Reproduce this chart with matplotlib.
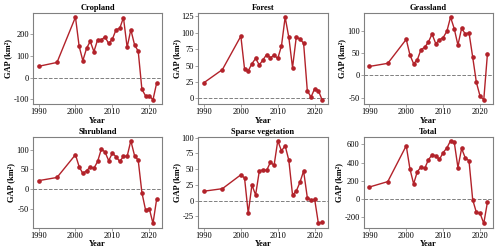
import numpy as np
import matplotlib.pyplot as plt

plt.rcParams['font.family'] = ['Liberation Serif', 'DejaVu Serif']
plt.rcParams['axes.unicode_minus'] = False

years = [1990, 1995, 2000, 2001, 2002, 2003, 2004, 2005, 2006, 2007, 2008, 2009,
         2010, 2011, 2012, 2013, 2014, 2015, 2016, 2017, 2018, 2019, 2020, 2021, 2022]

cropland = [52, 70, 280, 145, 78, 135, 168, 120, 175, 175, 188, 158,
            178, 222, 228, 278, 140, 222, 152, 122, -55, -85, -85, -103, -25]
forest = [24, 44, 95, 45, 42, 53, 61, 51, 59, 67, 62, 66,
          61, 80, 124, 93, 47, 93, 91, 84, 12, 2, 15, 12, -2]
grassland = [20, 27, 81, 46, 26, 35, 58, 63, 75, 93, 71, 80,
             85, 99, 131, 105, 68, 106, 93, 96, 41, -16, -47, -55, 49]
shrubland = [22, 30, 87, 57, 40, 47, 56, 53, 70, 101, 94, 72,
             91, 82, 70, 83, 83, 122, 85, 73, -8, -52, -48, -85, -24]
sparse = [15, 19, 41, 36, -20, 25, 9, 47, 49, 48, 61, 56,
          95, 79, 87, 64, 9, 15, 29, 47, 5, 1, 2, -36, -34]
total = [130, 190, 585, 330, 165, 300, 350, 335, 430, 485, 475, 435,
         510, 560, 640, 625, 345, 555, 450, 420, -10, -150, -160, -270, -35]

titles = ['Cropland', 'Forest', 'Grassland', 'Shrubland', 'Sparse vegetation', 'Total']
series = [cropland, forest, grassland, shrubland, sparse, total]
yticks = [[-100, 0, 100, 200], [0, 25, 50, 75, 100, 125], [-50, 0, 50, 100],
          [-50, 0, 50, 100], [-25, 0, 25, 50, 75, 100], [-200, 0, 200, 400, 600]]

fig, axes = plt.subplots(2, 3, figsize=(5, 2.5), dpi=100)
fig.subplots_adjust(left=0.066, right=0.986, top=0.948, bottom=0.09,
                    wspace=0.28, hspace=0.36)

for ax, t, s, yt in zip(axes.flat, titles, series, yticks):
    ax.axhline(0, color='gray', ls='--', lw=0.7, zorder=1)
    ax.plot(years, s, color='#b2222a', lw=1.0, marker='o', ms=2.3, zorder=2)
    ax.set_title(t, fontsize=6, fontweight='bold', pad=2)
    ax.set_ylabel('GAP (km²)', fontsize=6, fontweight='bold', labelpad=0.5)
    ax.set_xlabel('Year', fontsize=6, fontweight='bold', labelpad=0.5)
    ax.set_xticks([1990, 2000, 2010, 2020])
    ax.set_yticks(yt)
    ax.set_xlim(1988.5, 2023.5)
    ax.tick_params(labelsize=6, length=2, width=0.5, pad=1, color='gray')
    for sp in ax.spines.values():
        sp.set_color('gray')
        sp.set_linewidth(0.8)

fig.savefig('out.png')
